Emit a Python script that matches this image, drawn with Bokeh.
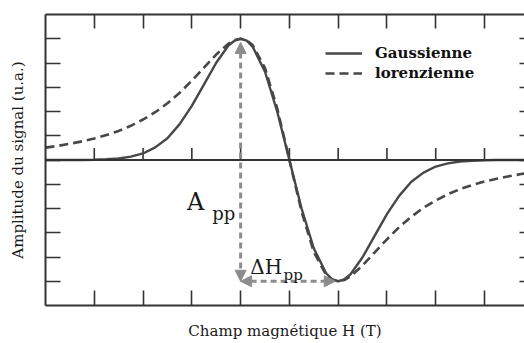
from bokeh.plotting import figure
from bokeh.models import (Range1d, LinearAxis, FixedTicker, Span, Arrow, NormalHead,
                          Label, Legend, LegendItem, CustomJSTickFormatter)
from bokeh.embed import file_html
from bokeh.resources import INLINE

# ---- data (field in tick units, amplitude in tick units)
field = [0.0, 0.25, 0.5, 0.75, 1.0, 1.25, 1.5, 1.75, 2.0, 2.25, 2.5, 2.75, 3.0, 3.25,
         3.5, 3.75, 3.875, 4.0, 4.125, 4.25, 4.5, 4.75, 5.0, 5.25, 5.5, 5.75, 5.875,
         6.0, 6.125, 6.25, 6.5, 6.75, 7.0, 7.25, 7.5, 7.75, 8.0, 8.25, 8.5, 8.75, 9.0,
         9.25, 9.5, 9.75, 10.0]
gaussienne = [0.0, 0.0, 0.0, 0.0, 0.01, 0.03, 0.06, 0.14, 0.27, 0.52, 0.90, 1.48, 2.23,
              3.12, 4.01, 4.72, 4.92, 5.00, 4.92, 4.66, 3.64, 2.00, 0.0, -2.00, -3.64,
              -4.66, -4.92, -5.00, -4.92, -4.72, -4.01, -3.12, -2.23, -1.48, -0.90,
              -0.52, -0.27, -0.14, -0.06, -0.03, -0.01, 0.0, 0.0, 0.0, 0.0]
lorenzienne = [0.51, 0.58, 0.67, 0.77, 0.89, 1.03, 1.20, 1.41, 1.67, 1.97, 2.34, 2.77,
               3.27, 3.81, 4.35, 4.80, 4.95, 5.00, 4.94, 4.73, 3.79, 2.13, 0.0, -2.13,
               -3.79, -4.73, -4.94, -5.00, -4.95, -4.80, -4.35, -3.81, -3.27, -2.77,
               -2.34, -1.97, -1.67, -1.41, -1.20, -1.03, -0.89, -0.77, -0.67, -0.58,
               -0.51]
x_ticks = [1, 2, 3, 4, 5, 6, 7, 8, 9]
y_ticks = [-5, -4, -3, -2, -1, 0, 1, 2, 3, 4, 5]
series_names = ["Gaussienne", "lorenzienne"]
x_title = "Champ magnétique H (T)"
y_title = "Amplitude du signal (u.a.)"

SERIF = "DejaVu Serif"
FRAME = "#333333"
CURVE = "#474747"
ARROW = "#8c8c8c"

p = figure(width=524, height=343, x_range=Range1d(0, 9.82), y_range=Range1d(-6, 6),
           output_backend="svg", toolbar_location=None,
           x_axis_type=None, y_axis_type=None,
           min_border_left=45, min_border_right=0, min_border_top=14, min_border_bottom=38)
p.outline_line_color = None
p.xgrid.visible = False
p.ygrid.visible = False
p.background_fill_color = "white"
p.border_fill_color = "white"

blank = CustomJSTickFormatter(code="return ''")


def make_axis(ticks, tick_in, line=True, label=None, standoff=0):
    ax = LinearAxis(ticker=FixedTicker(ticks=ticks), formatter=blank,
                    major_tick_in=tick_in, major_tick_out=0,
                    minor_tick_line_color=None, major_label_standoff=0,
                    major_tick_line_color=FRAME, major_tick_line_width=1.6,
                    axis_line_color=FRAME if line else None, axis_line_width=2)
    if label:
        ax.axis_label = label
        ax.axis_label_standoff = standoff
        ax.axis_label_text_font = SERIF
        ax.axis_label_text_font_style = "normal"
        ax.axis_label_text_font_size = "15px"
        ax.axis_label_text_color = "#1a1a1a"
    return ax


p.add_layout(make_axis(x_ticks, 15, label=x_title, standoff=16), "below")
p.add_layout(make_axis(x_ticks, 14), "above")
p.add_layout(make_axis(y_ticks, 15, label=y_title, standoff=19), "left")
p.add_layout(make_axis(y_ticks, 5, line=False), "right")

# zero line with its upward ticks
p.add_layout(Span(location=0, dimension="width", line_color=FRAME, line_width=2))
p.segment(x0=x_ticks, y0=[0] * len(x_ticks), x1=x_ticks, y1=[0.5] * len(x_ticks),
          line_color=FRAME, line_width=1.6)

r_l = p.line(field, lorenzienne, line_color=CURVE, line_width=2.6, line_dash="9 5")
r_g = p.line(field, gaussienne, line_color=CURVE, line_width=2.4)

# peak-to-peak markers derived from the data
i_max = gaussienne.index(max(gaussienne))
i_min = gaussienne.index(min(gaussienne))
x_pk, y_pk = field[i_max], gaussienne[i_max]
x_mn, y_mn = field[i_min], gaussienne[i_min]


def head():
    return NormalHead(size=11, fill_color=ARROW, line_color=ARROW)


p.add_layout(Arrow(start=head(), end=head(), x_start=x_pk, y_start=y_pk - 0.15,
                   x_end=x_pk, y_end=y_mn, line_color=ARROW, line_width=3,
                   line_dash="6 4"))
p.add_layout(Arrow(start=head(), end=head(), x_start=x_pk, y_start=y_mn,
                   x_end=x_mn - 0.06, y_end=y_mn, line_color=ARROW, line_width=3,
                   line_dash="6 4"))

txt = dict(text_font=SERIF, text_color="#1a1a1a", text_baseline="alphabetic")
p.add_layout(Label(x=2.90, y=-1.75, text="A", text_font_size="24px", **txt))
p.add_layout(Label(x=3.42, y=-2.2, text="pp", text_font_size="18px", **txt))
p.add_layout(Label(x=4.2, y=-4.43, text="ΔH", text_font_size="20px", **txt))
p.add_layout(Label(x=4.88, y=-4.74, text="pp", text_font_size="15px", **txt))

legend = Legend(items=[LegendItem(label=series_names[0], renderers=[r_g]),
                       LegendItem(label=series_names[1], renderers=[r_l])],
                location=(280, 222), glyph_width=37, glyph_height=20, label_height=20,
                label_standoff=13, padding=0, margin=0, spacing=0,
                border_line_color=None, background_fill_alpha=0,
                label_text_font=SERIF, label_text_font_style="bold",
                label_text_font_size="15px", label_text_color="#111111")
p.add_layout(legend)

open("out.html", "w").write(file_html(p, INLINE))
